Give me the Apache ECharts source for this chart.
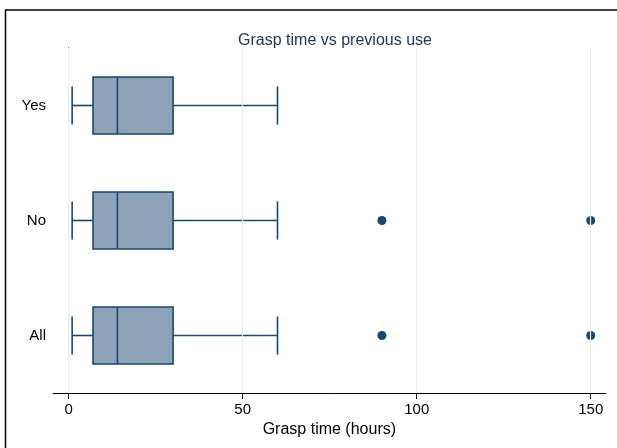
<!DOCTYPE html>
<html>
<head>
<meta charset="utf-8">
<script src="https://cdn.jsdelivr.net/npm/echarts@6/dist/echarts.min.js"></script>
<style>html,body{margin:0;padding:0;background:#fff}#c{width:617px;height:448px}</style>
</head>
<body>
<div id="c"></div>
<script>
// categories (bottom to top)
const categories = ['All', 'No', 'Yes'];
// box statistics per category
const whiskerLow = [1, 1, 1];
const q1 = [7, 7, 7];
const median = [14, 14, 14];
const q3 = [30, 30, 30];
const whiskerHigh = [60, 60, 60];
// outliers: [value, category]
const outlierValues = [90, 150, 90, 150];
const outlierCats = ['All', 'All', 'No', 'No'];
// x axis ticks
const xTicks = [0, 50, 100, 150];

const NAVY = '#1a476f';
const FILL = '#8ea3b8';
const FONT = 'Liberation Sans, Arial, sans-serif';

const boxData = categories.map((c, i) => [i, whiskerLow[i], q1[i], median[i], q3[i], whiskerHigh[i]]);
const outlierData = outlierValues.map((v, i) => [v, outlierCats[i]]);

function renderBox(params, api) {
  const ci = api.value(0);
  const band = api.size([0, 1])[1];
  const boxHalf = band * 0.248;
  const capHalf = band * 0.166;
  const y = api.coord([0, ci])[1];
  const xLo = api.coord([api.value(1), ci])[0];
  const xQ1 = api.coord([api.value(2), ci])[0];
  const xMed = api.coord([api.value(3), ci])[0];
  const xQ3 = api.coord([api.value(4), ci])[0];
  const xHi = api.coord([api.value(5), ci])[0];
  const ls = { stroke: NAVY, lineWidth: 1.6 };
  return {
    type: 'group',
    children: [
      { type: 'line', shape: { x1: xLo, y1: y, x2: xQ1, y2: y }, style: ls },
      { type: 'line', shape: { x1: xQ3, y1: y, x2: xHi, y2: y }, style: ls },
      { type: 'line', shape: { x1: xLo, y1: y - capHalf, x2: xLo, y2: y + capHalf }, style: ls },
      { type: 'line', shape: { x1: xHi, y1: y - capHalf, x2: xHi, y2: y + capHalf }, style: ls },
      { type: 'rect', shape: { x: xQ1, y: y - boxHalf, width: xQ3 - xQ1, height: boxHalf * 2 }, style: { fill: FILL, stroke: NAVY, lineWidth: 1.6 } },
      { type: 'line', shape: { x1: xMed, y1: y - boxHalf, x2: xMed, y2: y + boxHalf }, style: ls }
    ]
  };
}

const chart = echarts.init(document.getElementById('c'), null, { renderer: 'canvas' });
chart.setOption({
  backgroundColor: '#ffffff',
  animation: false,
  textStyle: { fontFamily: FONT },
  title: {
    text: 'Grasp time vs previous use',
    left: 330, top: 28, textAlign: 'center',
    textStyle: { fontSize: 16, fontWeight: 'normal', color: '#25335e', fontFamily: FONT }
  },
  graphic: [{
    type: 'rect', shape: { x: 5.5, y: 10, width: 700, height: 500 },
    style: { fill: 'none', stroke: '#000', lineWidth: 1.5 }, silent: true, z: 100
  }],
  grid: { left: 53, right: 11.3, top: 48, bottom: 55, containLabel: false },
  xAxis: {
    type: 'value', min: -4.5, max: 154.3,
    name: 'Grasp time (hours)', nameLocation: 'middle', nameGap: 25,
    nameTextStyle: { fontSize: 16, color: '#000', fontFamily: FONT },
    axisLine: { show: true, lineStyle: { color: '#000', width: 1 } },
    axisTick: { show: true, length: 6, customValues: xTicks, lineStyle: { color: '#000' } },
    axisLabel: { customValues: xTicks, fontSize: 15, color: '#000', margin: 9, fontFamily: FONT },
    splitLine: { show: false }
  },
  yAxis: {
    type: 'category', data: categories,
    axisLine: { show: true, lineStyle: { color: '#000', width: 1 } },
    axisTick: { show: false },
    axisLabel: { fontSize: 15, color: '#000', margin: 7, fontFamily: FONT },
    splitLine: { show: false }
  },
  series: [
    {
      type: 'scatter', data: outlierData, symbol: 'circle', symbolSize: 9,
      itemStyle: { color: NAVY, opacity: 1 }, z: 1,
      markLine: {
        silent: true, symbol: 'none', label: { show: false },
        lineStyle: { color: '#e6eff1', type: 'solid', width: 1.2, opacity: 1 },
        data: xTicks.map(v => ({ xAxis: v }))
      }
    },
    {
      type: 'custom', renderItem: renderBox, data: boxData,
      encode: { x: [1, 2, 3, 4, 5], y: 0 }, z: 3
    }
  ]
});
</script>
</body>
</html>
